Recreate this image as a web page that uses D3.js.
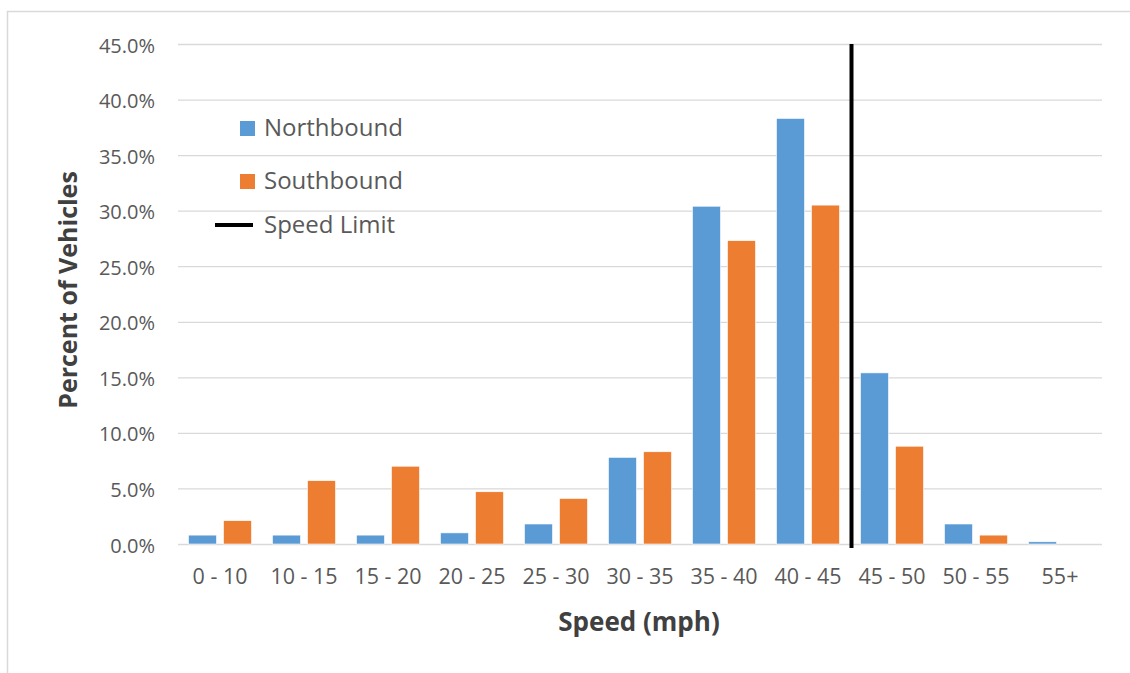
<!DOCTYPE html>
<html>
<head>
<meta charset="utf-8">
<script src="https://cdn.jsdelivr.net/npm/d3@7"></script>
<style>
  body { margin: 0; background: #fff; }
  text { font-family: "Open Sans", "Liberation Sans", sans-serif; }
</style>
</head>
<body>
<div id="chart-area"></div>
<script>
// Speed distribution data (percent of vehicles)
var categories = ["0 - 10", "10 - 15", "15 - 20", "20 - 25", "25 - 30", "30 - 35",
                  "35 - 40", "40 - 45", "45 - 50", "50 - 55", "55+"];
var northbound = [0.8, 0.8, 0.8, 1.0, 1.8, 7.8, 30.4, 38.3, 15.4, 1.8, 0.2];
var southbound = [2.1, 5.7, 7.0, 4.7, 4.1, 8.3, 27.3, 30.5, 8.8, 0.8, 0.0];
var seriesNames = ["Northbound", "Southbound"];
var yTicks = [0, 5, 10, 15, 20, 25, 30, 35, 40, 45];
var speedLimitCategory = "45 - 50";   // limit sits on the left edge of this bin
var speedLimitRange = [0, 45];

var colors = { Northbound: "#5b9bd5", Southbound: "#ed7d31" };

var W = 1130, H = 673;
var margin = { left: 178, right: 28, top: 44, bottom: 129 };
var width = W - margin.left - margin.right,
    height = H - margin.top - margin.bottom;

var svg = d3.select("#chart-area")
  .append("svg")
    .attr("width", W)
    .attr("height", H);

// chart frame (right / bottom edges run off the picture)
svg.append("rect")
    .attr("x", 7.5).attr("y", 11.5)
    .attr("width", 1200).attr("height", 800)
    .attr("fill", "#fff")
    .attr("stroke", "#d9d9d9")
    .attr("stroke-width", 1.5);

var g = svg.append("g")
    .attr("transform", "translate(" + margin.left + "," + margin.top + ")");

// Scales
var x = d3.scaleBand().domain(categories).range([0, width]).padding(0);
var xSub = d3.scaleBand().domain(seriesNames)
    .range([x.bandwidth() * 0.125, x.bandwidth() * 0.875])
    .paddingInner(0.2);
var y = d3.scaleLinear().domain([0, 45]).range([height, 0]);

// Gridlines
var yAxisCall = d3.axisLeft(y)
    .tickValues(yTicks)
    .tickSize(-width)
    .tickPadding(23)
    .tickFormat(function(d) { return d.toFixed(1) + "%"; });
var yAxis = g.append("g").attr("class", "y axis").call(yAxisCall);
yAxis.select(".domain").remove();
yAxis.selectAll(".tick line")
    .attr("stroke", "#d9d9d9")
    .attr("stroke-width", 1.3);
yAxis.selectAll(".tick text")
    .attr("fill", "#595959")
    .attr("font-size", "20px")
    .attr("dy", "0.4em");

// X axis labels
var xAxisCall = d3.axisBottom(x).tickSize(0).tickPadding(0);
var xAxis = g.append("g")
    .attr("class", "x axis")
    .attr("transform", "translate(0," + height + ")")
    .call(xAxisCall);
xAxis.select(".domain").remove();
xAxis.selectAll(".tick text")
    .attr("fill", "#595959")
    .attr("font-size", "21.5px")
    .attr("y", 40)
    .attr("dy", 0);

// Bars
var rows = categories.map(function(c, i) {
  return { cat: c, values: [
    { key: "Northbound", value: northbound[i] },
    { key: "Southbound", value: southbound[i] }
  ]};
});

var groups = g.selectAll(".bar-group")
  .data(rows)
  .enter().append("g")
    .attr("class", "bar-group")
    .attr("transform", function(d) { return "translate(" + x(d.cat) + ",0)"; });

groups.selectAll("rect")
  .data(function(d) { return d.values; })
  .enter().append("rect")
    .attr("x", function(d) { return xSub(d.key); })
    .attr("y", function(d) { return y(d.value); })
    .attr("width", xSub.bandwidth())
    .attr("height", function(d) { return height - y(d.value); })
    .attr("fill", function(d) { return colors[d.key]; })
    .attr("stroke", "#fff")
    .attr("stroke-width", 0.6);

// Speed limit line
g.append("line")
    .attr("x1", x(speedLimitCategory) + 1.5)
    .attr("x2", x(speedLimitCategory) + 1.5)
    .attr("y1", y(speedLimitRange[0]) + 4)
    .attr("y2", y(speedLimitRange[1]))
    .attr("stroke", "#000")
    .attr("stroke-width", 4);

// Axis titles
svg.append("text")
    .attr("x", 639)
    .attr("y", 631)
    .attr("text-anchor", "middle")
    .attr("font-size", "26px")
    .attr("font-weight", "bold")
    .attr("fill", "#404040")
    .text("Speed (mph)");

svg.append("text")
    .attr("transform", "rotate(-90)")
    .attr("x", -290)
    .attr("y", 77)
    .attr("text-anchor", "middle")
    .attr("font-size", "25px")
    .attr("font-weight", "bold")
    .attr("fill", "#404040")
    .text("Percent of Vehicles");

// Legend
var legend = svg.append("g").attr("class", "legend");
var legendRows = [
  { name: "Northbound", type: "box", baseline: 136 },
  { name: "Southbound", type: "box", baseline: 189 },
  { name: "Speed Limit", type: "line", baseline: 233 }
];
legendRows.forEach(function(r) {
  if (r.type === "box") {
    legend.append("rect")
        .attr("x", 240).attr("y", r.baseline - 15)
        .attr("width", 15).attr("height", 15)
        .attr("fill", colors[r.name]);
  } else {
    legend.append("line")
        .attr("x1", 215).attr("x2", 253)
        .attr("y1", r.baseline - 8).attr("y2", r.baseline - 8)
        .attr("stroke", "#000")
        .attr("stroke-width", 4);
  }
  legend.append("text")
      .attr("x", 264)
      .attr("y", r.baseline)
      .attr("font-size", "24px")
      .attr("fill", "#595959")
      .text(r.name);
});
</script>
</body>
</html>
